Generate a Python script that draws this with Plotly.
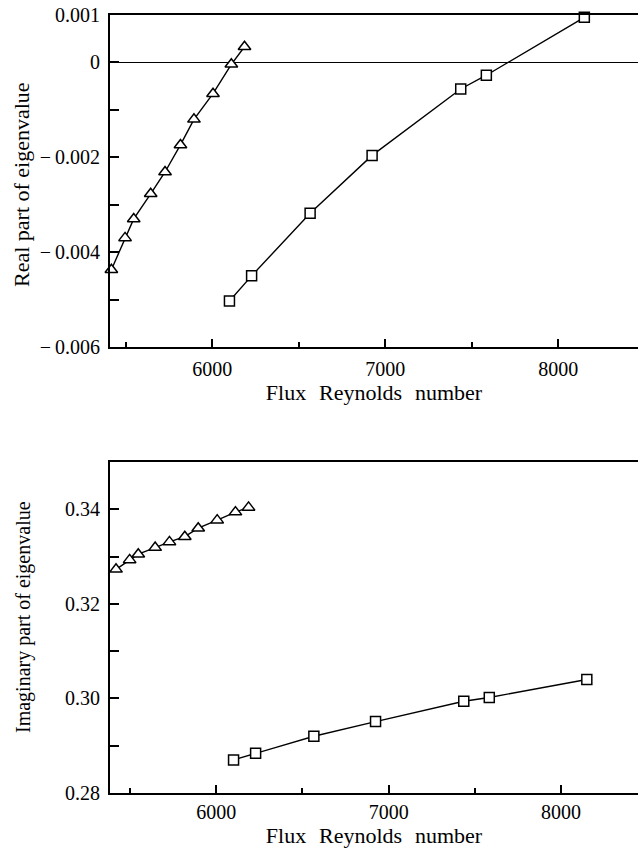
import plotly.graph_objects as go

# Flux Reynolds numbers of the computed eigenvalues
re_mode_a = [5418, 5497, 5547, 5645, 5728, 5817, 5895, 6005, 6111, 6187]
re_mode_b = [6100, 6228, 6566, 6924, 7436, 7584, 8150]

# Real part of the eigenvalue
real_mode_a = [-0.00437, -0.00370, -0.00330, -0.00277, -0.00231, -0.00174,
               -0.00120, -0.00066, -0.00004, 0.00033]
real_mode_b = [-0.00503, -0.00450, -0.00318, -0.00196, -0.00056, -0.00027, 0.00095]

# Imaginary part of the eigenvalue
imag_mode_a = [0.3273, 0.3293, 0.3305, 0.3319, 0.3331, 0.3342, 0.3360,
               0.3377, 0.3394, 0.3404]
imag_mode_b = [0.2870, 0.2884, 0.2920, 0.2951, 0.2994, 0.3002, 0.3040]

# Axis ticks
x_major = [6000, 7000, 8000]
x_minor = [5500, 6500, 7500]
MINUS = "\u2212\u2009"
real_ticks = [0.001, 0.0, -0.001, -0.002, -0.003, -0.004, -0.005, -0.006]
real_labels = ["0.001", "0", "", MINUS + "0.002", "", MINUS + "0.004", "",
               MINUS + "0.006"]
imag_ticks = [0.28, 0.30, 0.32, 0.34]
imag_labels = ["0.28", "0.30", "0.32", "0.34"]
imag_minor = [0.29, 0.31, 0.33]

FONT = "Liberation Serif"
INK = "black"
SP = "\u2002\u200a"  # wide word gap used in the axis titles

W, H = 638, 849
ML, MR, MT, MB = 110, 0, 15, 56
plot_h = H - MT - MB
plot_w = W - ML - MR


def ydom(top_px, bottom_px):
    return [(H - MB - bottom_px) / plot_h, (H - MB - top_px) / plot_h]


def ypaper(px):
    return (H - MB - px) / plot_h


def xpaper(px):
    return (px - ML) / plot_w


tri = dict(symbol="triangle-up", size=11, color="white",
           line=dict(color=INK, width=1.5))
sq = dict(symbol="square", size=10, color="white",
          line=dict(color=INK, width=1.5))
ln = dict(color=INK, width=1.4)

fig = go.Figure()
for x, y, m, xa, ya in [
    (re_mode_a, real_mode_a, tri, "x", "y"),
    (re_mode_b, real_mode_b, sq, "x", "y"),
    (re_mode_a, imag_mode_a, tri, "x2", "y2"),
    (re_mode_b, imag_mode_b, sq, "x2", "y2"),
]:
    fig.add_trace(go.Scatter(x=x, y=y, mode="lines+markers", marker=m, line=ln,
                             xaxis=xa, yaxis=ya, cliponaxis=False,
                             showlegend=False, hoverinfo="skip"))

tick_font = dict(family=FONT, size=20, color=INK)
title_font = dict(family=FONT, size=22, color=INK)
x_title = "Flux" + SP + "Reynolds" + SP + "number"


def x_axis(rng, anchor, standoff):
    return dict(
        domain=[0, 1], range=rng, anchor=anchor,
        tickmode="array", tickvals=x_major, ticks="inside", ticklen=8,
        tickwidth=1.5, tickcolor=INK, showline=True, linewidth=2, linecolor=INK,
        mirror=True, showgrid=False, zeroline=False, tickfont=tick_font,
        ticklabelstandoff=standoff,
        minor=dict(tickvals=x_minor, ticks="inside", ticklen=5, tickwidth=1.5,
                   tickcolor=INK, showgrid=False),
        title=dict(text=x_title, font=title_font, standoff=4),
    )


fig.update_layout(
    width=W, height=H,
    margin=dict(l=ML, r=MR, t=MT, b=MB),
    paper_bgcolor="white", plot_bgcolor="white",
    font=dict(family=FONT, color=INK),
    xaxis=x_axis([5410, 8460], "y", 3),
    yaxis=dict(
        domain=ydom(15, 347), range=[-0.006, 0.001], anchor="x",
        tickmode="array", tickvals=real_ticks, ticktext=real_labels,
        ticks="inside", ticklen=9, tickwidth=1.5, tickcolor=INK,
        showline=True, linewidth=2, linecolor=INK, mirror=False,
        showgrid=False, zeroline=True, zerolinecolor=INK, zerolinewidth=1,
        tickfont=tick_font, ticklabelstandoff=4,
    ),
    xaxis2=x_axis([5383, 8447], "y2", 0),
    yaxis2=dict(
        domain=ydom(462, 793), range=[0.28, 0.35], anchor="x2",
        tickmode="array", tickvals=imag_ticks, ticktext=imag_labels,
        ticks="inside", ticklen=9, tickwidth=1.5, tickcolor=INK,
        showline=True, linewidth=2, linecolor=INK, mirror=False,
        showgrid=False, zeroline=False, tickfont=tick_font, ticklabelstandoff=4,
        minor=dict(tickvals=imag_minor, ticks="inside", ticklen=9, tickwidth=1.5,
                   tickcolor=INK, showgrid=False),
    ),
    annotations=[
        dict(text="Real part of eigenvalue", textangle=-90,
             xref="paper", yref="paper", x=xpaper(21), y=ypaper(185),
             xanchor="center", yanchor="middle", showarrow=False,
             font=dict(family=FONT, size=22, color=INK)),
        dict(text="Imaginary part of eigenvalue", textangle=-90,
             xref="paper", yref="paper", x=xpaper(23), y=ypaper(617),
             xanchor="center", yanchor="middle", showarrow=False,
             font=dict(family=FONT, size=20, color=INK)),
    ],
)

fig.write_html("out.html")
